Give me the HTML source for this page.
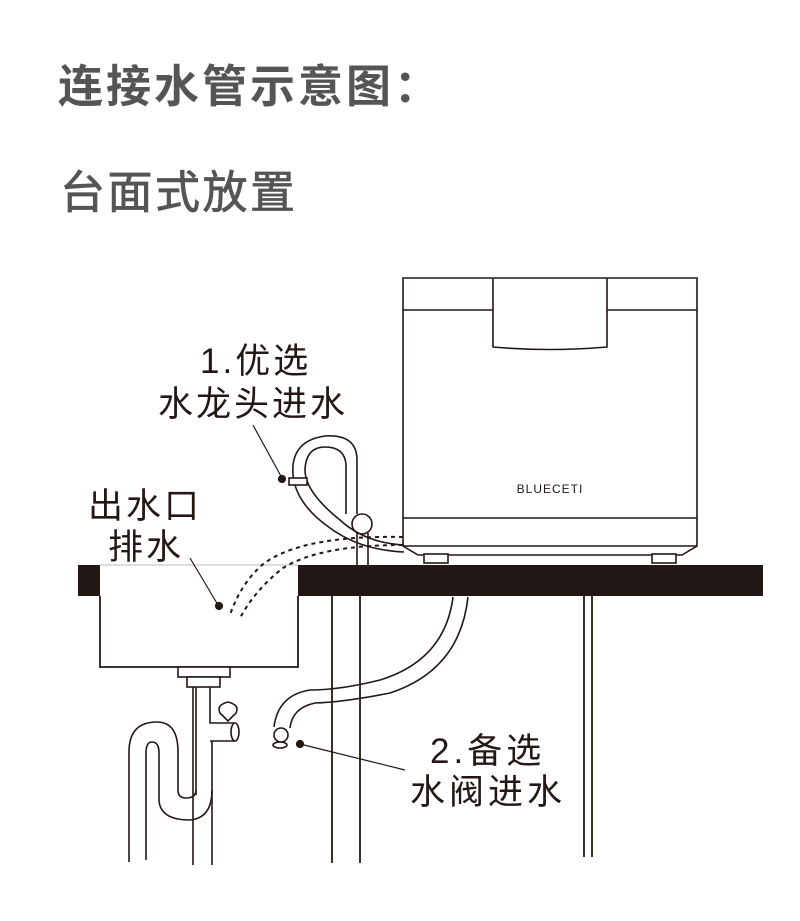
<!DOCTYPE html>
<html><head><meta charset="utf-8"><style>
html,body{margin:0;padding:0;background:#fff;}
svg{display:block;}
text{font-family:"Liberation Sans","Noto Sans CJK SC",sans-serif;}
</style></head><body>
<svg width="800" height="921" viewBox="0 0 800 921" xmlns="http://www.w3.org/2000/svg">
<text x="58" y="102" font-size="45" font-weight="bold" fill="#555" letter-spacing="3">连接水管示意图：</text>
<text x="60" y="208" font-size="45" fill="#555" letter-spacing="2.5" stroke="#555" stroke-width="0.8">台面式放置</text>

<g fill="none" stroke="#231815" stroke-width="1.6">
<path d="M403 278 H697 V546 L682 555 H418 L403 546 Z" fill="#fff"/>
<line x1="403" y1="310" x2="493" y2="310"/>
<line x1="607" y1="310" x2="697" y2="310"/>
<path d="M493 278 V347 Q550 352 607 347 V278"/>
<line x1="403" y1="518" x2="697" y2="518"/>
<line x1="403" y1="546" x2="697" y2="546"/>
<rect x="424" y="554" width="24" height="9" fill="#fff"/>
<rect x="652" y="554" width="24" height="9" fill="#fff"/>
</g>
<text x="550" y="493" font-size="12" text-anchor="middle" fill="#231815" letter-spacing="1">BLUECETI</text>

<rect x="78" y="565" width="22" height="31" fill="#231815"/>
<rect x="298" y="565" width="465" height="31" fill="#231815"/>
<line x1="100" y1="565" x2="298" y2="565" stroke="#bbb" stroke-width="1"/>
<g fill="none" stroke="#231815" stroke-width="1.8">
<path d="M100 596 V667 H298 V596"/>
<line x1="332" y1="596" x2="332" y2="863"/>
<line x1="360" y1="596" x2="360" y2="863"/>
<line x1="584" y1="596" x2="584" y2="857"/>
<line x1="592" y1="596" x2="592" y2="857"/>
</g>

<g fill="none" stroke="#231815" stroke-width="1.6">
<path d="M357 565 V533 M368 565 V533"/>
<circle cx="362" cy="524" r="10" fill="#fff"/>
<path d="M404 552 Q360 550 330 528 Q290 500 293 465 Q296 440 325 436 Q357 434 357 460 V514"/>
<path d="M404 545 Q365 543 340 520 Q305 492 305 470 Q306 447 325 447 Q345 447 346 465 V514"/>
<rect x="289" y="478" width="18" height="7" fill="#fff"/>
</g>
<g fill="none" stroke="#231815" stroke-width="2" stroke-dasharray="4,4">
<path d="M403 537 Q300 535 262 565 Q240 585 230 615"/>
<path d="M403 545 Q320 545 283 568 Q255 590 240 618"/>
</g>

<g fill="none" stroke="#231815" stroke-width="1.6">
<path d="M453 597 Q445 660 380 680 Q340 690 310 690 Q278 695 274 727"/>
<path d="M468 597 Q460 670 390 693 Q345 702 315 703 Q292 708 290 728"/>
<circle cx="281" cy="735" r="7" fill="#fff"/>
<ellipse cx="280" cy="745" rx="7" ry="3" fill="#fff"/>
</g>

<g fill="none" stroke="#231815" stroke-width="1.6">
<rect x="178" y="667" width="52" height="10" fill="#fff"/>
<rect x="187" y="677" width="33" height="10" fill="#fff"/>
<path d="M193 687 V865"/>
<path d="M196 687 V795"/>
<path d="M210 687 V723 H235 M210 741 H235 M212 741 V865"/>
<ellipse cx="235" cy="732" rx="4" ry="9" fill="#fff"/>
<path d="M220 713 L228 721 L236 713 Q240 705 228 702 Q216 705 220 713 Z" fill="#fff"/>
<path d="M129 862 V752 Q129 722 157 722 Q178 722 178 752 V790 Q178 798 186 798 Q196 798 196 790"/>
<path d="M146 860 V753 Q146 742 152 742 Q159 742 159 753 V800 Q160 820 190 820 Q212 818 212 790"/>
</g>

<g stroke="#231815" stroke-width="1.2" fill="#231815">
<line x1="253" y1="425" x2="282" y2="478"/><circle cx="282" cy="479" r="3.5"/>
<line x1="190" y1="558" x2="218" y2="605"/><circle cx="219" cy="606" r="3.5"/>
<line x1="300" y1="744" x2="405" y2="770"/><circle cx="300" cy="744" r="3.5"/>
</g>

<g fill="#231815" font-size="35">
<text x="200" y="373" letter-spacing="3">1.优选</text>
<text x="158" y="416" letter-spacing="3">水龙头进水</text>
<text x="88" y="518" letter-spacing="3">出水口</text>
<text x="108" y="559" letter-spacing="3">排水</text>
<text x="430" y="763" letter-spacing="4">2.备选</text>
<text x="410" y="804" letter-spacing="4">水阀进水</text>
</g>
</svg>
</body></html>
